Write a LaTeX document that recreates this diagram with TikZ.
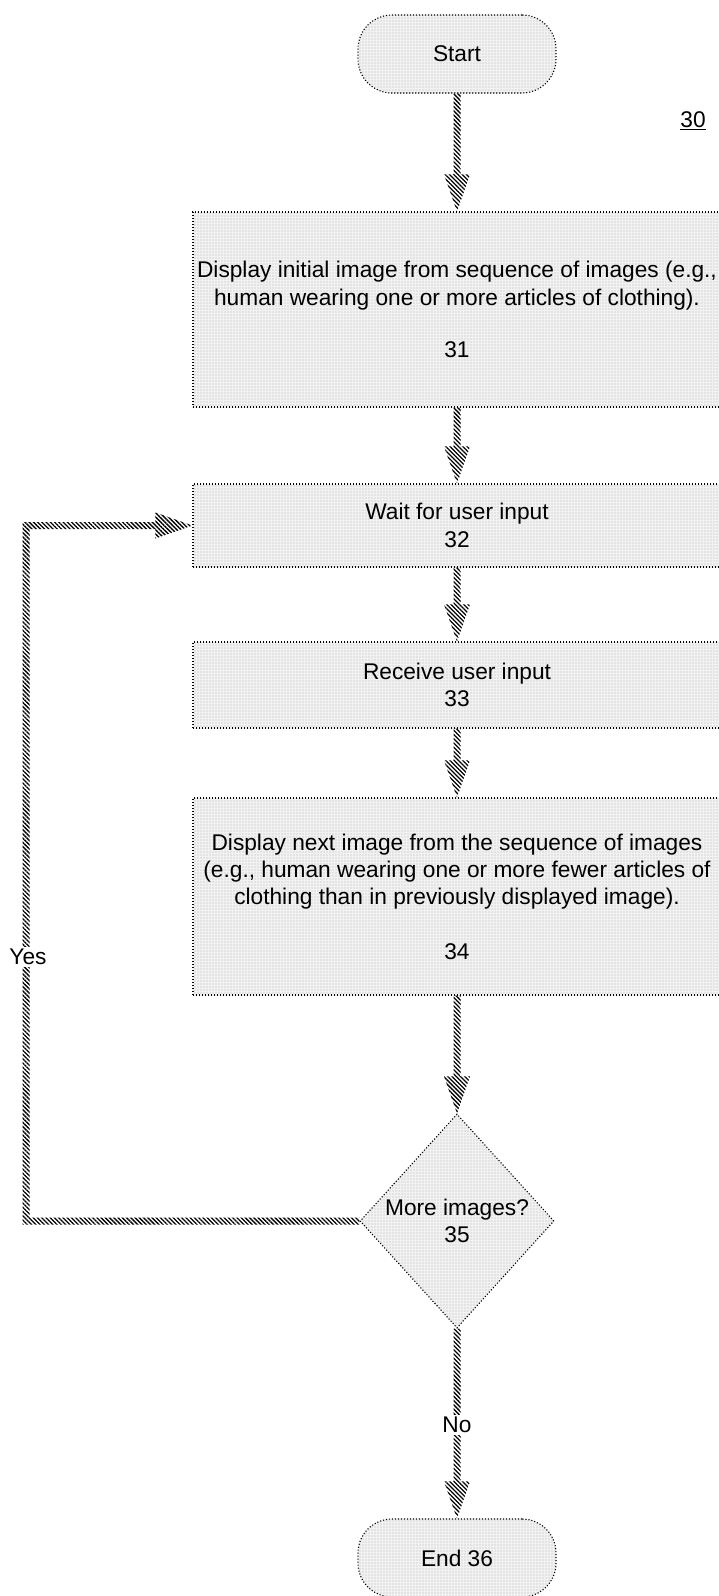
\documentclass[tikz,border=0pt]{standalone}
\usepackage{fontspec}
\setmainfont{Liberation Sans}
\usetikzlibrary{shapes.geometric,patterns.meta,calc}

\tikzset{
  outline/.style={draw=black, line width=1.1pt, dash pattern=on 1.1pt off 1.9pt},
  stipple/.style={preaction={fill=gray!10},
                  pattern={Dots[distance=3pt,radius=0.65pt]}, pattern color=gray!60},
  stepbox/.style={stipple, outline, rectangle, minimum width=528pt,
                  align=center, inner sep=0pt},
  terminal/.style={stipple, outline, rectangle, rounded corners=34pt,
                   minimum width=198pt, minimum height=78pt},
  decision/.style={stipple, outline, diamond, minimum width=194pt,
                   minimum height=214pt, inner sep=0pt, align=center},
  hatch/.style={pattern={Lines[angle=-45,distance=3pt,line width=1.3pt]},
                pattern color=black},
  lbl/.style={fill=white, inner sep=2pt},
}

% hatched block arrow straight down from the bottom of #1 to the top of #2
\newcommand\hatchdown[2]{%
  \fill[hatch] let \p1=(#1.south), \p2=(#2.north) in
    (\x1-3.5pt,\y1) rectangle (\x1+3.5pt,\y2+37pt)
    (\x1,\y2) -- (\x1-13pt,\y2+37pt) -- (\x1+13pt,\y2+37pt) -- cycle;
}

\begin{document}
\begin{tikzpicture}[x=1pt,y=1pt,font=\fontsize{22.7pt}{27.3pt}\selectfont]
  \fill[white] (0,0) rectangle (718,-1596);
  \useasboundingbox (0,0) rectangle (718,-1596);

  \node[terminal] (start) at (457,-54) {Start};
  \node (ref) at (693,-121) {\underline{30}};

  \node[stepbox, minimum height=195pt] (s31) at (457,-309.5)
    {Display initial image from sequence of images (e.g.,\\
     human wearing one or more articles of clothing).\\[25pt] 31};
  \node[stepbox, minimum height=83pt] (s32) at (457,-525.5)
    {Wait for user input\\ 32};
  \node[stepbox, minimum height=86pt] (s33) at (457,-685)
    {Receive user input\\ 33};
  \node[stepbox, minimum height=197pt] (s34) at (457,-896.5)
    {Display next image from the sequence of images\\
     (e.g., human wearing one or more fewer articles of\\
     clothing than in previously displayed image).\\[27pt] 34};
  \node[decision] (d35) at (457,-1221) {More images?\\ 35};
  \node[terminal] (end) at (457,-1558) {End 36};

  \hatchdown{start}{s31}
  \hatchdown{s31}{s32}
  \hatchdown{s32}{s33}
  \hatchdown{s33}{s34}
  \hatchdown{s34}{d35}
  \hatchdown{d35}{end}

  % "Yes" loop back to the waiting step
  \fill[hatch] let \p1=(d35.west), \p2=(s32.west) in
    (\x1,\y1+3.5pt) -- (29.5pt,\y1+3.5pt) -- (29.5pt,\y2-3.5pt)
    -- (\x2-37pt,\y2-3.5pt) -- (\x2-37pt,\y2+3.5pt) -- (22.5pt,\y2+3.5pt)
    -- (22.5pt,\y1-3.5pt) -- (\x1,\y1-3.5pt) -- cycle
    (\x2,\y2) -- (\x2-37pt,\y2+13pt) -- (\x2-37pt,\y2-13pt) -- cycle;

  \node[lbl] (yes) at (28,-957) {Yes};
  \node[lbl] (no) at (457,-1425) {No};
\end{tikzpicture}
\end{document}
